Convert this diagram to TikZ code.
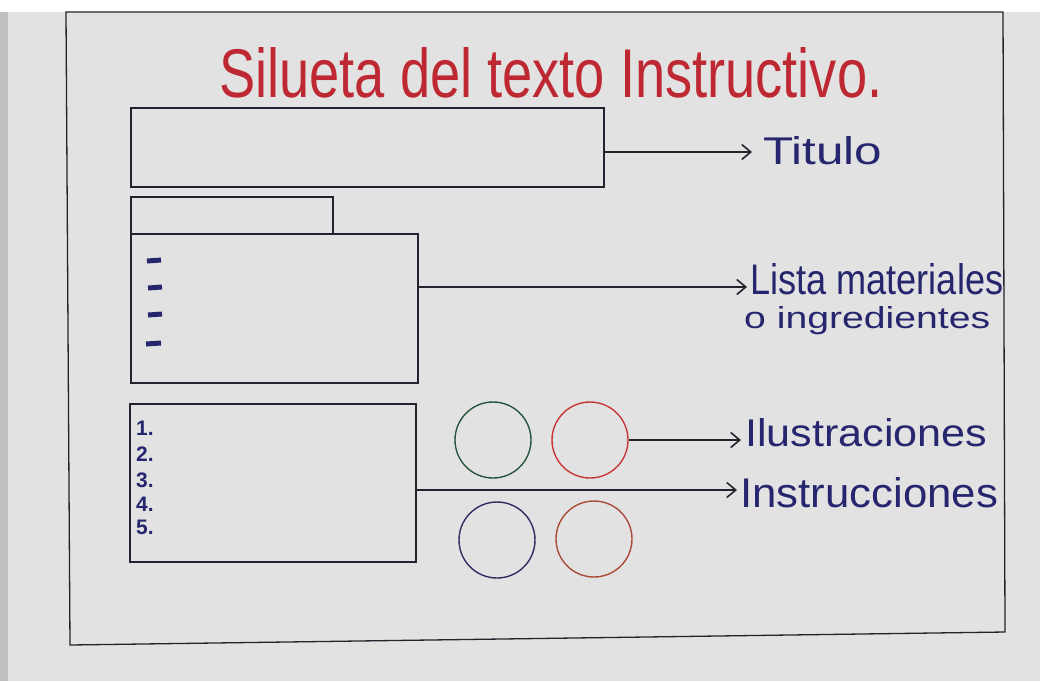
\documentclass[tikz,border=0pt]{standalone}
\usepackage{fontspec}
\setmainfont{Liberation Sans}
\usetikzlibrary{arrows.meta}
\definecolor{paper}{RGB}{226,226,226}
\definecolor{ink}{RGB}{35,35,45}
\definecolor{navy}{RGB}{38,38,110}
\definecolor{titred}{RGB}{190,40,50}
\definecolor{cgreen}{RGB}{40,85,60}
\definecolor{cred}{RGB}{200,55,55}
\definecolor{cblue}{RGB}{45,45,100}
\definecolor{cbrown}{RGB}{170,75,55}
\begin{document}
\begin{tikzpicture}[x=1pt,y=-1pt,
  box/.style={draw=ink,line width=1.3pt,inner sep=0pt,rectangle},
  circ/.style={circle,line width=1.4pt,minimum size=76pt,inner sep=0pt},
  arr/.style={draw=ink,line width=1.3pt,-{Straight Barb[length=9pt,width=15pt,line width=1.6pt]}},
  lab/.style={text=navy,inner sep=0pt,anchor=base west},
  num/.style={text=navy,inner sep=0pt,anchor=west,font=\fontsize{21}{21}\selectfont\bfseries},
  dashmark/.style={draw=navy,line width=5pt}]
\useasboundingbox (0,0) rectangle (1040,681);
\fill[paper] (0,0) rectangle (1040,681);
\fill[white] (0,0) rectangle (1040,12);
\fill[black!25] (0,12) rectangle (8,681);
\draw[ink,line width=1.3pt] (66,12) -- (1003,12) -- (1005,632) -- (70,645) -- cycle;

% title
\node[lab,text=titred] (title) at (219,97) {\resizebox{663pt}{50pt}{Silueta del texto Instructivo.}};

% boxes
\node[box,minimum width=473pt,minimum height=79pt] (tbox) at (367.5,147.5) {};
\node[box,minimum width=202pt,minimum height=37pt] (tab) at (232,215.5) {};
\node[box,minimum width=287pt,minimum height=149pt] (lbox) at (274.5,308.5) {};
\node[box,minimum width=286pt,minimum height=158pt] (ibox) at (273,483) {};

% dashes
\draw[dashmark] (147,261) -- (161,260);
\draw[dashmark] (148,288) -- (162,287);
\draw[dashmark] (148,315) -- (162,314);
\draw[dashmark] (146,344) -- (161,343);

% numbers
\node[num] (n1) at (136,428) {1.};
\node[num] (n2) at (136,454) {2.};
\node[num] (n3) at (136,480) {3.};
\node[num] (n4) at (136,504) {4.};
\node[num] (n5) at (136,527) {5.};

% circles
\node[circ,draw=cgreen] (c1) at (493,440) {};
\node[circ,draw=cred] (c2) at (590,440) {};
\node[circ,draw=cblue] (c3) at (497,540) {};
\node[circ,draw=cbrown] (c4) at (594,539) {};

% arrow tips
\coordinate (tTip) at (752,152);
\coordinate (lTip) at (747,287);
\coordinate (iTip) at (741,440);
\coordinate (nTip) at (737,490);

\draw[arr] (tbox.east |- tTip) -- (tTip);
\draw[arr] (lbox.east |- lTip) -- (lTip);
\draw[arr] (c2.east) -- (iTip);
\draw[arr] (ibox.east |- nTip) -- (nTip);

% labels
\node[lab] (ltit) at (763,164) {\resizebox{119pt}{28pt}{Titulo}};
\node[lab] (llis) at (750,294) {\resizebox{253pt}{31pt}{Lista materiales}};
\node[lab] (ling) at (744,328) {\resizebox{246pt}{22pt}{o ingredientes}};
\node[lab] (lilu) at (745,446) {\resizebox{242pt}{28pt}{Ilustraciones}};
\node[lab] (lins) at (740,507) {\resizebox{258pt}{30pt}{Instrucciones}};
\end{tikzpicture}
\end{document}
